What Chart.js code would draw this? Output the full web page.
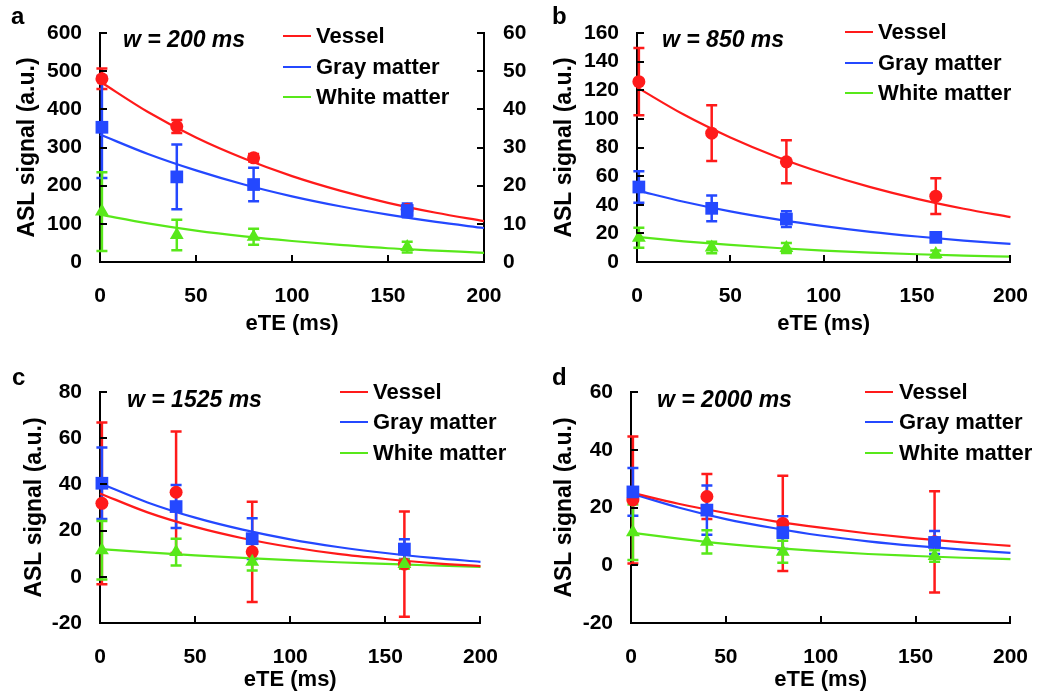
<!DOCTYPE html>
<html><head><meta charset="utf-8">
<script src="https://cdn.jsdelivr.net/npm/chart.js@4.4.1/dist/chart.umd.min.js"></script>
<style>
html,body{margin:0;padding:0;background:#fff;width:1050px;height:696px;overflow:hidden;}
canvas{position:absolute;}
</style></head><body>
<canvas id="pa" width="545" height="340" style="left:0;top:0"></canvas>
<canvas id="pb" width="530" height="340" style="left:520px;top:0"></canvas>
<canvas id="pc" width="520" height="356" style="left:0;top:340px"></canvas>
<canvas id="pd" width="530" height="356" style="left:520px;top:340px"></canvas>
<script>
// ---------- data ----------
const eTE = [1, 40, 80, 160];
const fitTE = [0, 25, 50, 75, 100, 125, 150, 175, 200];
const xTicks = [0, 50, 100, 150, 200];
const seriesNames = ['Vessel', 'Gray matter', 'White matter'];

// Panel a (w = 200 ms); white matter on right axis
const aVessel = [480, 355, 273, 138];
const aVesselErr = [27, 17, 10, 10];
const aGray = [353, 223, 203, 135];
const aGrayErr = [133, 85, 44, 18];
const aWhite = [13.2, 7.1, 6.6, 3.9];
const aWhiteErr = [10.3, 4.0, 2.1, 1.4];
const aVesselFit = [473, 393, 326, 271, 225, 187, 155, 129, 107];
const aGrayFit = [334, 283, 240, 203, 172, 146, 124, 105, 89];
const aWhiteFit = [12.4, 10.1, 8.2, 6.7, 5.5, 4.5, 3.6, 3.0, 2.4];
const aYTicks = [0, 100, 200, 300, 400, 500, 600];
const aY2Ticks = [0, 10, 20, 30, 40, 50, 60];

// Panel b (w = 850 ms)
const bVessel = [126, 90, 70, 46];
const bVesselErr = [23.5, 19.5, 15, 12.5];
const bGray = [52.4, 37.5, 30, 17.2];
const bGrayErr = [11, 9, 5.5, 2];
const bWhite = [17, 10.2, 9.8, 5.6];
const bWhiteErr = [7, 4, 3.5, 2.5];
const bVesselFit = [122, 103, 87, 73.4, 62, 52.3, 44.1, 37.2, 31.4];
const bGrayFit = [50, 42.1, 35.4, 29.8, 25.1, 21.1, 17.8, 15.0, 12.6];
const bWhiteFit = [17.5, 14.4, 11.9, 9.8, 8.0, 6.6, 5.4, 4.5, 3.7];
const bYTicks = [0, 20, 40, 60, 80, 100, 120, 140, 160];

// Panel c (w = 1525 ms)
const cVessel = [31.8, 36.6, 10.8, 5.5];
const cVesselErr = [35, 26.3, 21.7, 22.8];
const cGray = [40.5, 30.4, 16.5, 12];
const cGrayErr = [15.5, 9.3, 8.8, 4.3];
const cWhite = [11.5, 10.7, 6.5, 5.5];
const cWhiteErr = [12.7, 5.8, 3.8, 2];
const cVesselFit = [36.1, 27.9, 21.6, 16.7, 12.9, 9.9, 7.7, 5.9, 4.6];
const cGrayFit = [40.5, 32.2, 25.6, 20.4, 16.2, 12.9, 10.3, 8.2, 6.5];
const cWhiteFit = [12, 10.6, 9.3, 8.2, 7.2, 6.3, 5.6, 4.9, 4.3];
const cYTicks = [-20, 0, 20, 40, 60, 80];

// Panel d (w = 2000 ms)
const dVessel = [22.6, 23.8, 14.5, 8.1];
const dVesselErr = [22, 7.8, 16.5, 17.5];
const dGray = [25.4, 19.1, 11.3, 7.9];
const dGrayErr = [8.3, 8.5, 5.7, 4];
const dWhite = [11.4, 8.1, 4.7, 3.2];
const dWhiteErr = [9.6, 4, 3.8, 2];
const dVesselFit = [25.2, 21.3, 18.1, 15.3, 13.0, 11.0, 9.3, 7.9, 6.7];
const dGrayFit = [24.9, 20.0, 16.0, 12.9, 10.3, 8.3, 6.7, 5.4, 4.3];
const dWhiteFit = [11.3, 9.2, 7.4, 6.0, 4.9, 3.9, 3.2, 2.6, 2.1];
const dYTicks = [-20, 0, 20, 40, 60];

// ---------- styling ----------
const COLORS = ['#ff1a1a', '#2448ff', '#58e81a'];
const STYLES = ['circle', 'rect', 'triangle'];
const RADII = [6.5, 9, 8];
const FONT = "'Liberation Sans', Arial, sans-serif";

Chart.defaults.font.family = FONT;
Chart.defaults.font.weight = 'bold';
Chart.defaults.color = '#000';

const pts = (xs, ys) => xs.map((x, i) => ({x: x, y: ys[i]}));

const decor = {
  id: 'decor',
  beforeDatasetsDraw(chart) {
    const ctx = chart.ctx;
    ctx.save();
    chart.data.datasets.forEach((ds) => {
      if (!ds.errors) return;
      const xs = chart.scales.x, ys = chart.scales[ds.yAxisID || 'y'];
      ctx.strokeStyle = ds.borderColor;
      ctx.lineWidth = 2.5;
      ds.data.forEach((p, j) => {
        const e = ds.errors[j];
        const px = xs.getPixelForValue(p.x);
        const t = ys.getPixelForValue(p.y + e), b = ys.getPixelForValue(p.y - e);
        ctx.beginPath();
        ctx.moveTo(px, t); ctx.lineTo(px, b);
        ctx.moveTo(px - 5.5, t); ctx.lineTo(px + 5.5, t);
        ctx.moveTo(px - 5.5, b); ctx.lineTo(px + 5.5, b);
        ctx.stroke();
      });
    });
    ctx.restore();
  },
  afterDraw(chart, args, o) {
    const ctx = chart.ctx, ca = chart.chartArea;
    ctx.save();
    ctx.strokeStyle = '#000';
    ctx.lineWidth = 2;
    // inward tick marks
    const xs = chart.scales.x;
    xs.ticks.forEach(t => {
      if (t.value <= xs.min) return;
      const px = Math.round(xs.getPixelForValue(t.value));
      ctx.beginPath(); ctx.moveTo(px, ca.bottom); ctx.lineTo(px, ca.bottom - 7); ctx.stroke();
    });
    ['y', 'y2'].forEach(id => {
      const s = chart.scales[id];
      if (!s) return;
      s.ticks.forEach(t => {
        if (t.value <= s.min) return;
        const py = Math.round(s.getPixelForValue(t.value));
        ctx.beginPath();
        if (id === 'y') { ctx.moveTo(ca.left, py); ctx.lineTo(ca.left + 7, py); }
        else { ctx.moveTo(ca.right, py); ctx.lineTo(ca.right - 7, py); }
        ctx.stroke();
      });
    });
    // panel letter
    ctx.fillStyle = '#000';
    ctx.textAlign = 'left';
    ctx.textBaseline = 'alphabetic';
    ctx.font = 'bold 24px ' + FONT;
    ctx.fillText(o.letter, o.letterX, o.letterY);
    // w annotation
    ctx.font = 'italic bold 23px ' + FONT;
    ctx.textBaseline = 'middle';
    ctx.fillText(o.wText, o.wX, o.wY);
    // legend
    ctx.font = 'bold 22px ' + FONT;
    seriesNames.forEach((name, i) => {
      const y = o.legY[i];
      ctx.strokeStyle = COLORS[i];
      ctx.beginPath(); ctx.moveTo(o.legX0, y); ctx.lineTo(o.legX1, y); ctx.stroke();
      ctx.fillStyle = '#000';
      ctx.fillText(name, o.legText, y + 1);
    });
    ctx.restore();
  }
};

function makePanel(id, p) {
  const datasets = [];
  for (let i = 0; i < 3; i++) {
    datasets.push({
      label: seriesNames[i] + ' fit',
      data: pts(fitTE, p.fits[i]),
      showLine: true, borderColor: COLORS[i], borderWidth: 2.2,
      pointRadius: 0, cubicInterpolationMode: 'monotone',
      yAxisID: p.axes[i], order: 10, clip: false
    });
  }
  for (let i = 0; i < 3; i++) {
    datasets.push({
      label: seriesNames[i],
      data: pts(eTE, p.values[i]),
      errors: p.errors[i],
      showLine: false, borderColor: COLORS[i], backgroundColor: COLORS[i],
      pointStyle: STYLES[i], pointRadius: RADII[i], pointBorderWidth: 0,
      yAxisID: p.axes[i], order: 3 - i, clip: false
    });
  }
  const L = p.layout;
  const scales = {
    x: {
      type: 'linear', min: 0, max: 200,
      afterBuildTicks: s => { s.ticks = xTicks.map(v => ({value: v})); },
      grid: {display: false, drawTicks: false},
      border: {display: true, color: '#000', width: 2},
      ticks: {font: {size: 21, weight: 'bold'}, color: '#000', padding: L.xTickPad, maxRotation: 0},
      title: {display: true, text: 'eTE (ms)', font: {size: 22, weight: 'bold'}, color: '#000', padding: {top: 0, bottom: L.xTitlePad}},
      afterFit: s => { s.height = L.xHeight; }
    },
    y: {
      type: 'linear', position: 'left', min: p.yTicks[0], max: p.yTicks[p.yTicks.length - 1],
      afterBuildTicks: s => { s.ticks = p.yTicks.map(v => ({value: v})); },
      grid: {display: false, drawTicks: false},
      border: {display: true, color: '#000', width: 2},
      ticks: {font: {size: 21, weight: 'bold'}, color: '#000', padding: 18},
      title: {display: true, text: 'ASL signal (a.u.)', font: {size: 23, weight: 'bold'}, color: '#000', padding: {top: L.yTitlePad, bottom: 0}},
      afterFit: s => { s.width = L.yWidth; }
    }
  };
  if (p.y2Ticks) {
    scales.y2 = {
      type: 'linear', position: 'right', min: p.y2Ticks[0], max: p.y2Ticks[p.y2Ticks.length - 1],
      afterBuildTicks: s => { s.ticks = p.y2Ticks.map(v => ({value: v})); },
      grid: {display: false, drawTicks: false},
      border: {display: true, color: '#000', width: 2},
      ticks: {font: {size: 21, weight: 'bold'}, color: '#000', padding: 19},
      afterFit: s => { s.width = L.y2Width; }
    };
  }
  return new Chart(document.getElementById(id), {
    type: 'scatter',
    data: {datasets},
    options: {
      responsive: false, animation: false, devicePixelRatio: 1,
      layout: {padding: {top: L.top, left: 0, right: L.right, bottom: 0}},
      plugins: {legend: {display: false}, tooltip: {enabled: false}, decor: p.decor},
      scales
    },
    plugins: [decor]
  });
}

makePanel('pa', {
  values: [aVessel, aGray, aWhite], errors: [aVesselErr, aGrayErr, aWhiteErr],
  fits: [aVesselFit, aGrayFit, aWhiteFit], axes: ['y', 'y', 'y2'],
  yTicks: aYTicks, y2Ticks: aY2Ticks,
  layout: {top: 33, right: 0, yWidth: 100, y2Width: 61, xHeight: 78, xTickPad: 22, xTitlePad: 3, yTitlePad: 14},
  decor: {letter: 'a', letterX: 11, letterY: 24, wText: 'w = 200 ms', wX: 123, wY: 41,
          legX0: 283, legX1: 311, legText: 316, legY: [36, 67, 97]}
});
makePanel('pb', {
  values: [bVessel, bGray, bWhite], errors: [bVesselErr, bGrayErr, bWhiteErr],
  fits: [bVesselFit, bGrayFit, bWhiteFit], axes: ['y', 'y', 'y'],
  yTicks: bYTicks,
  layout: {top: 33, right: 33, yWidth: 117, xHeight: 78, xTickPad: 22, xTitlePad: 3, yTitlePad: 31},
  decor: {letter: 'b', letterX: 32, letterY: 24, wText: 'w = 850 ms', wX: 142, wY: 41,
          legX0: 325, legX1: 353, legText: 358, legY: [32, 63, 93]}
});
makePanel('pc', {
  values: [cVessel, cGray, cWhite], errors: [cVesselErr, cGrayErr, cWhiteErr],
  fits: [cVesselFit, cGrayFit, cWhiteFit], axes: ['y', 'y', 'y'],
  yTicks: cYTicks,
  layout: {top: 52, right: 27, yWidth: 100, xHeight: 73, xTickPad: 22, xTitlePad: 3, yTitlePad: 21},
  decor: {letter: 'c', letterX: 12, letterY: 45, wText: 'w = 1525 ms', wX: 127, wY: 61,
          legX0: 340, legX1: 368, legText: 373, legY: [52, 82, 113]}
});
makePanel('pd', {
  values: [dVessel, dGray, dWhite], errors: [dVesselErr, dGrayErr, dWhiteErr],
  fits: [dVesselFit, dGrayFit, dWhiteFit], axes: ['y', 'y', 'y'],
  yTicks: dYTicks,
  layout: {top: 52, right: 33, yWidth: 111, xHeight: 73, xTickPad: 22, xTitlePad: 3, yTitlePad: 31},
  decor: {letter: 'd', letterX: 32, letterY: 45, wText: 'w = 2000 ms', wX: 137, wY: 61,
          legX0: 345, legX1: 373, legText: 379, legY: [52, 82, 113]}
});
</script>
</body></html>
